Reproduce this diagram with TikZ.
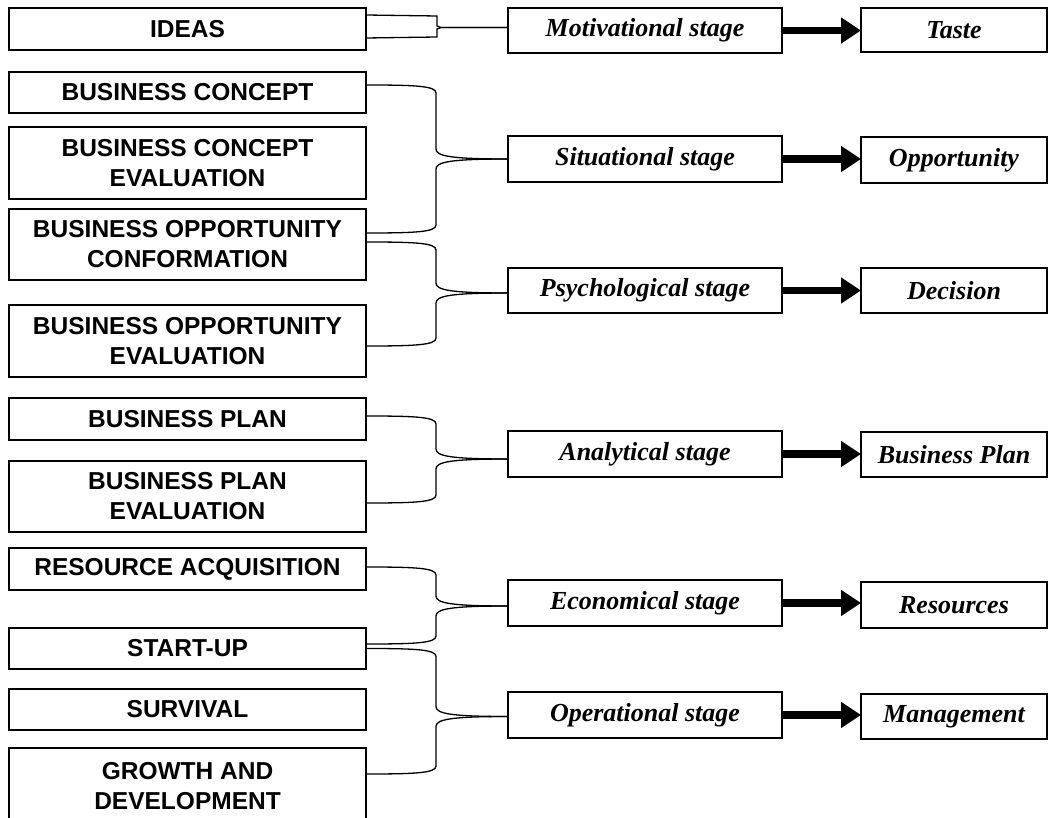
\documentclass[tikz,border=0pt]{standalone}
\usepackage{fontspec}
\setmainfont{Liberation Serif}
\newfontfamily\lsans{Liberation Sans}
\usetikzlibrary{arrows.meta,calc}
\tikzset{
  lbox/.style={draw, line width=1.4pt, anchor=north west, minimum width=357pt, inner sep=0pt, outer sep=0pt, align=center, font=\lsans\bfseries\fontsize{24.5}{30}\selectfont},
  mbox/.style={draw, line width=1.4pt, anchor=north west, minimum width=274pt, inner sep=0pt, outer sep=0pt, align=center, font=\bfseries\itshape\fontsize{26}{30}\selectfont},
  rbox/.style={draw, line width=1.4pt, anchor=north west, minimum width=186pt, inner sep=0pt, outer sep=0pt, align=center, font=\bfseries\itshape\fontsize{26}{30}\selectfont},
  brace/.style={draw, line width=1.3pt},
  arr/.style={line width=7.5pt, -{Triangle[length=20pt,width=25pt]}}
}
\newcommand\bracetop[2]{\draw[brace] let \p1=(#1), \p2=(#2) in (\p1) .. controls (\x1+50pt,\y1) and (436pt,\y1-1pt) .. (436pt,\y1-8pt) -- (436pt,\y2+10pt) .. controls (436pt,\y2+3pt) and (450pt,\y2) .. (\p2);}
\newcommand\bracebot[2]{\draw[brace] let \p1=(#1), \p2=(#2) in (\p1) .. controls (\x1+50pt,\y1) and (436pt,\y1+1pt) .. (436pt,\y1+8pt) -- (436pt,\y2-10pt) .. controls (436pt,\y2-3pt) and (450pt,\y2) .. (\p2);}
\begin{document}
\begin{tikzpicture}[x=1pt,y=-1pt]
\clip (0,0) rectangle (1049,818);
\fill[white] (0,0) rectangle (1049,818);
% left column
\node[lbox, minimum height=42pt] (ideas) at (9,8) {IDEAS};
\node[lbox, minimum height=41pt] (bc) at (9,72) {BUSINESS CONCEPT};
\node[lbox, minimum height=72pt] (bce) at (9,127) {BUSINESS CONCEPT\\EVALUATION};
\node[lbox, minimum height=71pt] (boc) at (9,209) {BUSINESS OPPORTUNITY\\CONFORMATION};
\node[lbox, minimum height=72pt] (boe) at (9,305) {BUSINESS OPPORTUNITY\\EVALUATION};
\node[lbox, minimum height=42pt] (bp) at (9,398) {BUSINESS PLAN};
\node[lbox, minimum height=71pt] (bpe) at (9,461) {BUSINESS PLAN\\EVALUATION};
\node[lbox, minimum height=42pt] (ra) at (9,548) {RESOURCE ACQUISITION};
\node[lbox, minimum height=41pt] (su) at (9,628) {START-UP};
\node[lbox, minimum height=41pt] (sv) at (9,689) {SURVIVAL};
\node[lbox, minimum height=76pt] (gd) at (9,748) {GROWTH AND\\DEVELOPMENT};
% middle column
\node[mbox, minimum height=45pt] (mot) at (508,8) {Motivational stage};
\node[mbox, minimum height=46pt] (sit) at (508,136) {Situational stage};
\node[mbox, minimum height=45pt] (psy) at (508,268) {Psychological stage};
\node[mbox, minimum height=46pt] (ana) at (508,431) {Analytical stage};
\node[mbox, minimum height=46pt] (eco) at (508,580) {Economical stage};
\node[mbox, minimum height=46pt] (ope) at (508,692) {Operational stage};
% right column
\node[rbox, minimum height=44pt] (taste) at (861,8) {Taste};
\node[rbox, minimum height=46pt] (opp) at (861,137) {Opportunity};
\node[rbox, minimum height=45pt] (dec) at (861,268) {Decision};
\node[rbox, minimum height=45pt] (bpl) at (861,432) {Business Plan};
\node[rbox, minimum height=46pt] (res) at (861,582) {Resources};
\node[rbox, minimum height=45pt] (man) at (861,694) {Management};
% arrows
\foreach \a/\b in {mot/taste, sit/opp, psy/dec, ana/bpl, eco/res, ope/man}
  \draw[arr] (\a.east) -- (\a.east -| \b.west);
% ideas bracket
\draw[brace] ([yshift=14pt]ideas.east) -- ++(71,1) -- ++(0,10) -- ++(4,1.5) -- ([yshift=3pt]mot.west);
\draw[brace] ([yshift=-9pt]ideas.east) -- ++(71,-1) -- ++(0,-8) -- ++(4,-1.5) -- ([yshift=3pt]mot.west);
% other brackets
\bracetop{[yshift=7.5pt]bc.east}{sit.west}
\bracebot{[yshift=11.5pt]boc.east}{sit.west}
\bracetop{[yshift=2.5pt]boc.east}{[yshift=-2.5pt]psy.west}
\bracebot{[yshift=-5pt]boe.east}{[yshift=-2.5pt]psy.west}
\bracetop{[yshift=3pt]bp.east}{[yshift=-5pt]ana.west}
\bracebot{[yshift=-6.5pt]bpe.east}{[yshift=-5pt]ana.west}
\bracetop{[yshift=2pt]ra.east}{[yshift=-3pt]eco.west}
\bracebot{[yshift=4.5pt]su.east}{[yshift=-3pt]eco.west}
\bracetop{[yshift=0pt]su.east}{[yshift=-1.5pt]ope.west}
\bracebot{[yshift=12pt]gd.east}{[yshift=-1.5pt]ope.west}
\end{tikzpicture}
\end{document}
